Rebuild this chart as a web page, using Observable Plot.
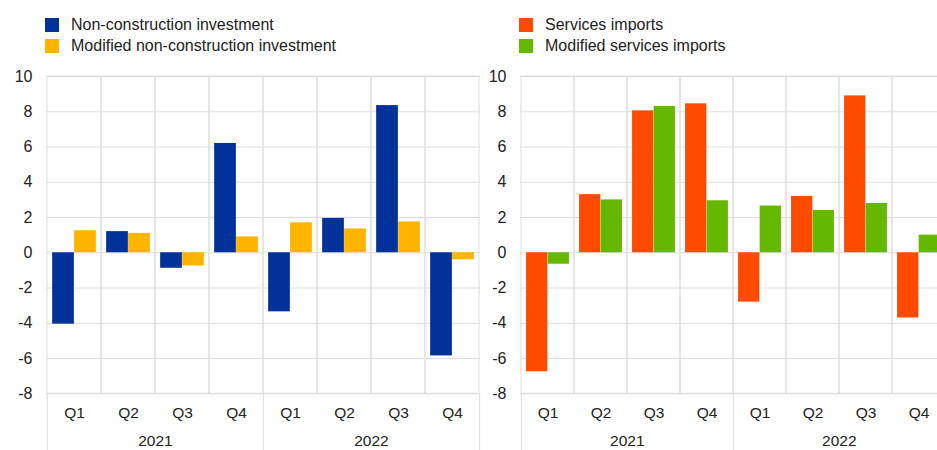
<!DOCTYPE html>
<html>
<head>
<meta charset="utf-8">
<script src="https://cdn.jsdelivr.net/npm/d3@7"></script>
<script src="https://cdn.jsdelivr.net/npm/@observablehq/plot@0.6"></script>
<style>
  html, body { margin: 0; padding: 0; background: #fff; overflow: hidden; width: 937px; height: 450px; }
  body { font-family: "Liberation Sans", Arial, sans-serif; color: #222; position: relative; }
  .panel { position: absolute; top: 0; }
  .legend { position: absolute; font-size: 16px; line-height: 20px; }
  .legend .item { display: flex; align-items: center; height: 21px; }
  .legend .sw { width: 14px; height: 14px; margin-right: 12px; flex: none; }
  .chart { position: absolute; top: 60px; left: 0; }
</style>
</head>
<body>
<div id="left" class="panel" style="left:0;width:485px;height:450px;"></div>
<div id="right" class="panel" style="left:485px;width:470px;height:450px;"></div>
<script>
// ---- data ----
const years = ["2021", "2022"];
const quarters = ["Q1", "Q2", "Q3", "Q4"];
const periods = years.flatMap(y => quarters.map(q => y + " " + q));

const leftSeriesNames = ["Non-construction investment", "Modified non-construction investment"];
const nonConstruction =         [-4.05, 1.2, -0.88, 6.2, -3.35, 1.95, 8.35, -5.85];
const modifiedNonConstruction = [1.25, 1.1, -0.75, 0.9, 1.7, 1.35, 1.75, -0.4];

const rightSeriesNames = ["Services imports", "Modified services imports"];
const servicesImports =         [-6.75, 3.3, 8.05, 8.45, -2.8, 3.2, 8.9, -3.7];
const modifiedServicesImports = [-0.65, 3.0, 8.3, 2.95, 2.65, 2.4, 2.8, 1.0];

const yTicks = [-8, -6, -4, -2, 0, 2, 4, 6, 8, 10];

// ---- drawing ----
const GRID = "#dddddd";
const FONT = "\"Liberation Sans\", Arial, sans-serif";

function panel(el, {names, colors, a, b, width, marginLeft, marginRight, legendLeft}) {
  const legend = document.createElement("div");
  legend.className = "legend";
  legend.style.left = legendLeft + "px";
  legend.style.top = "14px";
  names.forEach((n, i) => {
    const it = document.createElement("div");
    it.className = "item";
    it.innerHTML = `<span class="sw" style="background:${colors[i]}"></span><span>${n}</span>`;
    legend.appendChild(it);
  });
  el.appendChild(legend);

  const height = 390, marginTop = 16, marginBottom = 56.7;
  const bw = (width - marginLeft - marginRight) / periods.length;
  const pad = bw * 0.095;
  const half = bw / 2;
  const rows = periods.map((p, i) => ({p, a: a[i], b: b[i]}));
  const yearStarts = years.map(y => y + " Q1");
  const yearMid = years.map(y => ({p: y + " Q3", year: y}));

  const chart = Plot.plot({
    width, height, marginTop, marginBottom, marginLeft, marginRight,
    style: {fontFamily: FONT, fontSize: "16px", color: "#222", background: "transparent"},
    x: {domain: periods, padding: 0, axis: null},
    y: {domain: [-8, 10], axis: null},
    marks: [
      Plot.ruleY(yTicks, {stroke: GRID, strokeWidth: 1}),
      Plot.barY(periods, {x: d => d, y1: -8, y2: 10, fill: "none", stroke: GRID, strokeWidth: 1}),
      Plot.ruleX(yearStarts, {x: d => d, y1: -8, y2: -11.3, dx: -half, stroke: GRID, strokeWidth: 1}),
      Plot.ruleX([periods[periods.length - 1]], {x: d => d, y1: -8, y2: -11.3, dx: half, stroke: GRID, strokeWidth: 1}),
      Plot.barY(rows, {x: "p", y: "a", fill: colors[0], insetLeft: pad, insetRight: half}),
      Plot.barY(rows, {x: "p", y: "b", fill: colors[1], insetLeft: half, insetRight: pad}),
      Plot.axisY({ticks: yTicks, tickSize: 0, tickPadding: 14, fontSize: 16, tickFormat: d => String(d)}),
      Plot.axisX({tickSize: 0, tickPadding: 13, fontSize: 15.5, tickFormat: d => d.split(" ")[1], label: null}),
      Plot.text(yearMid, {x: "p", y: -8, text: "year", dx: -half, dy: 41.5, lineAnchor: "top", fontSize: 15.5, fill: "#222"})
    ]
  });
  chart.classList.add("chart");
  el.appendChild(chart);
}

panel(document.getElementById("left"), {
  names: leftSeriesNames, colors: ["#003299", "#FFB400"],
  a: nonConstruction, b: modifiedNonConstruction,
  width: 485, marginLeft: 46, marginRight: 5, legendLeft: 45
});
panel(document.getElementById("right"), {
  names: rightSeriesNames, colors: ["#FF4B00", "#65B800"],
  a: servicesImports, b: modifiedServicesImports,
  width: 470, marginLeft: 35, marginRight: 8.3, legendLeft: 34
});
</script>
</body>
</html>
